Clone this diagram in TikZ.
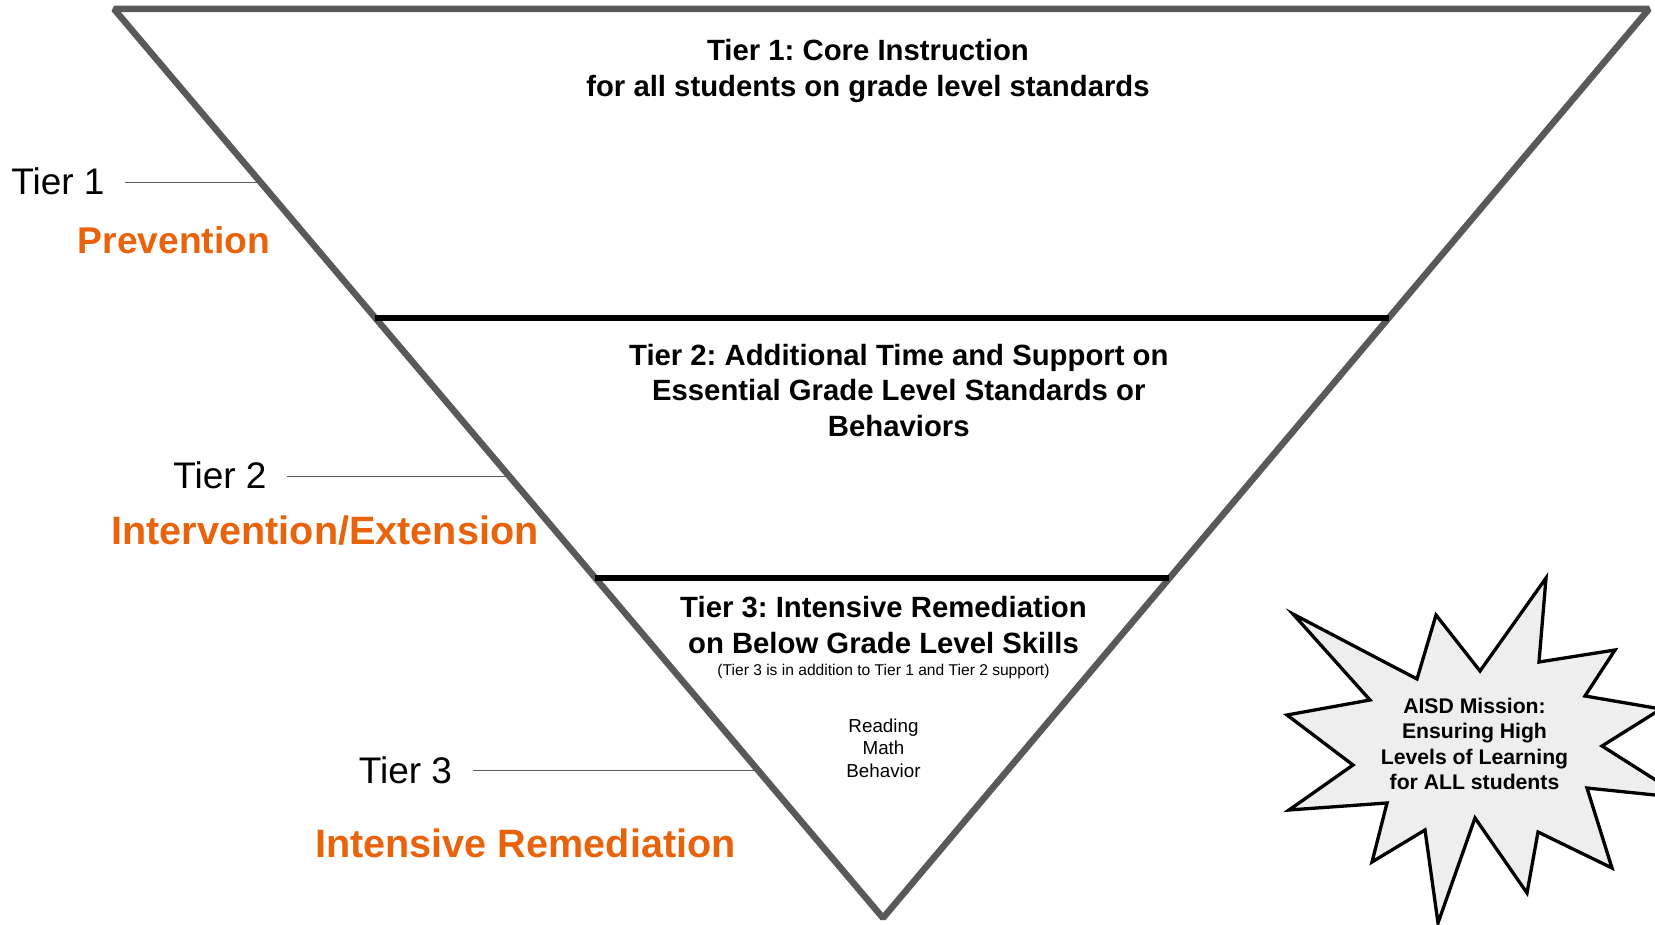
\documentclass[tikz,border=0pt]{standalone}
\usepackage{fontspec}
\setmainfont{Liberation Sans}
\frenchspacing
\usetikzlibrary{calc}
\definecolor{edgegray}{HTML}{595959}
\definecolor{labelorange}{HTML}{E8630C}
\definecolor{burstfill}{HTML}{EEEEEE}
\tikzset{
  tiertext/.style={align=center,font=\fontsize{14.65}{17.75}\selectfont\bfseries},
  tierlabel/.style={anchor=base,inner xsep=10pt,font=\fontsize{18.5}{22}\selectfont},
  tiername/.style={anchor=base,text=labelorange,font=\fontsize{19.8}{24}\selectfont\bfseries},
  leader/.style={draw=edgegray,line width=0.7pt},
  tierline/.style={draw=black,line width=3.25pt},
  pyramid/.style={draw=edgegray,line width=3.25pt},
  burst/.style={draw=black,fill=burstfill,line width=1.65pt,line join=miter},
}
\begin{document}
\begin{tikzpicture}[x=0.5pt,y=-0.5pt,line join=bevel]
    \useasboundingbox (0,0) rectangle (1655,925);
    %%
    \coordinate (tl) at (114,9);
    \coordinate (tr) at (1649,9);
    \coordinate (tip) at (883,918);
    \coordinate (a1) at ($(tl)!0.340!(tip)$);
    \coordinate (b1) at ($(tr)!0.340!(tip)$);
    \coordinate (a2) at ($(tl)!0.626!(tip)$);
    \coordinate (b2) at ($(tr)!0.626!(tip)$);
    \coordinate (s1) at ($(tl)!0.191!(tip)$);
    \coordinate (s2) at ($(tl)!0.514!(tip)$);
    \coordinate (s3) at ($(tl)!0.838!(tip)$);
    \draw [pyramid] (tl) -- (tr) -- (tip) -- cycle;
    \draw [tierline] (a1) -- (b1);
    \draw [tierline] (a2) -- (b2);
    %%
    \node (tier1) at (868,71) [tiertext] {Tier 1: Core Instruction\\for all students on grade level standards};
    \node (tier2) at (898.8,390.5) [tiertext] {Tier 2: Additional Time and Support on\\Essential Grade Level Standards or\\Behaviors};
    \node (tier3) at (883.5,625) [tiertext] {Tier 3: Intensive Remediation\\on Below Grade Level Skills};
    \node (t3note) at (883.5,671) [font=\fontsize{7.8}{9}\selectfont] {(Tier 3 is in addition to Tier 1 and Tier 2 support)};
    \node (subjects) at (883.5,748) [align=center,font=\fontsize{9.4}{11.2}\selectfont] {Reading\\Math\\Behavior};
    %%
    \node (tlab1) at (58,195) [tierlabel] {Tier 1};
    \node (tlab2) at (220,488) [tierlabel] {Tier 2};
    \node (tlab3) at (405.5,783) [tierlabel] {Tier 3};
    \node (tname1) at (174,254) [tiername,font=\fontsize{18.6}{22}\selectfont\bfseries] {Prevention};
    \node (tname2) at (325,544) [tiername] {Intervention/Extension};
    \node (tname3) at (525.5,857) [tiername] {Intensive Remediation};
    \draw [leader] (tlab1.east |- s1) -- (s1);
    \draw [leader] (tlab2.east |- s2) -- (s2);
    \draw [leader] (tlab3.east |- s3) -- (s3);
    %%
    \begin{scope}
      \clip (0,0) rectangle (1655,925);
      \draw [burst] (1293,614) -- (1417,679) -- (1436,615) -- (1480,671) -- (1546,578) -- (1539,662)
        -- (1615,650) -- (1585,696) -- (1661,709) -- (1602,746) -- (1684,798) -- (1587,788)
        -- (1612,868) -- (1538,832) -- (1527,893) -- (1475,818) -- (1438,923) -- (1425,830)
        -- (1372,862) -- (1387,803) -- (1289,810) -- (1353,765) -- (1287,715) -- (1370,700) -- cycle;
    \end{scope}
    \node (mission) at (1474.5,744) [align=center,font=\fontsize{10.6}{12.65}\selectfont\bfseries] {AISD Mission:\\Ensuring High\\Levels of Learning\\for ALL students};
    %
\end{tikzpicture}
\end{document}
